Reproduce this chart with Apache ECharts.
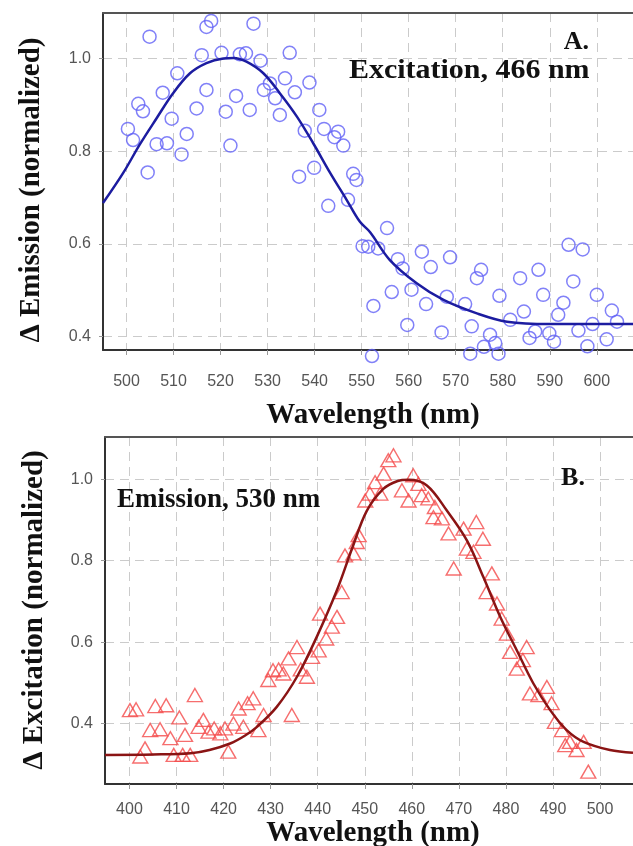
<!DOCTYPE html>
<html><head><meta charset="utf-8">
<script src="https://cdn.jsdelivr.net/npm/echarts@6/dist/echarts.min.js"></script>
<style>html,body{margin:0;padding:0;background:#fff}#c{width:633px;height:846px}</style>
</head><body><div id="c"></div>
<script>
// Panel A: emission spectrum (excitation 466 nm)
const emissionPoints = [
 [504.9,1.047],[517.0,1.068],[518.0,1.081],[527.0,1.075],
 [516.0,1.007],[520.2,1.012],[524.1,1.009],[525.4,1.011],[528.5,0.995],[534.7,1.012],
 [510.8,0.968],[517.0,0.932],[507.7,0.926],[502.5,0.902],[503.5,0.886],[500.3,0.848],[501.4,0.824],
 [509.6,0.870],[512.8,0.837],[506.4,0.815],[508.6,0.817],[511.7,0.793],[504.5,0.754],[514.9,0.892],
 [523.3,0.919],[521.1,0.885],[526.2,0.889],[522.1,0.812],[530.5,0.946],[529.2,0.932],[533.7,0.957],
 [531.6,0.914],[535.8,0.927],[538.9,0.948],[532.6,0.878],[541.0,0.889],[537.9,0.844],[542.0,0.848],
 [545.0,0.842],[544.2,0.830],[546.1,0.812],[539.9,0.764],[536.7,0.745],[542.9,0.682],[548.2,0.751],
 [548.9,0.738],[547.1,0.695],
 [550.2,0.595],[551.4,0.594],[553.5,0.590],
 [555.4,0.634],[562.8,0.583],[564.7,0.550],[568.8,0.571],[557.7,0.567],[558.7,0.547],[556.4,0.496],
 [552.5,0.466],[560.6,0.501],[563.7,0.470],[568.1,0.486],[559.7,0.425],[567.0,0.409],[572.0,0.470],
 [573.4,0.422],[574.5,0.526],[575.4,0.544],[577.3,0.404],[578.4,0.386],[579.3,0.488],[581.6,0.436],
 [583.7,0.526],[584.5,0.454],[585.7,0.397],[586.9,0.411],[587.6,0.544],[588.6,0.490],[589.9,0.407],
 [590.9,0.389],[591.8,0.447],[592.9,0.473],[594.0,0.598],[595.0,0.519],[597.0,0.588],[596.1,0.413],
 [599.1,0.427],[600.0,0.490],[598.0,0.379],[602.1,0.394],[603.2,0.456],[604.3,0.432],
 [552.2,0.358],[573.1,0.363],[576.0,0.378],[579.1,0.363]
];
const emissionFit = [
 [495.0,0.688],[499.3,0.753],[502.8,0.814],[506.4,0.871],[509.9,0.925],[513.5,0.968],[517.0,0.990],
 [520.6,1.000],[522.7,1.001],[525.5,0.993],[529.1,0.968],[532.6,0.925],[536.2,0.875],[539.7,0.817],
 [543.3,0.753],[546.8,0.695],[549.6,0.648],[551.8,0.625],[556.0,0.565],[561.7,0.515],[567.4,0.479],
 [574.5,0.450],[580.9,0.432],[590.0,0.427],[608.0,0.427]
];
// Panel B: excitation spectrum (emission 530 nm)
const excitationPoints = [
 [400.1,0.433],[401.4,0.435],[403.3,0.339],[402.3,0.319],[404.4,0.384],[406.5,0.386],[405.5,0.443],
 [407.8,0.445],[408.7,0.364],[409.4,0.323],[410.6,0.415],[411.8,0.372],[411.3,0.323],[412.9,0.323],
 [413.9,0.470],[414.7,0.392],[415.7,0.409],[416.8,0.380],[418.0,0.388],[419.3,0.376],[420.3,0.388],
 [421.0,0.331],[422.1,0.400],[423.2,0.437],[424.2,0.392],[425.1,0.450],[426.3,0.462],[427.4,0.384],
 [428.5,0.421],[429.5,0.507],[430.5,0.531],[431.7,0.533],[432.7,0.523],[433.8,0.560],[434.5,0.421],
 [435.6,0.588],[436.4,0.533],[437.7,0.515],[438.8,0.564],[440.2,0.580],[441.8,0.609],[443.0,0.638],
 [444.1,0.662],[440.5,0.670],[445.1,0.723],[445.8,0.813],[447.6,0.818],[448.3,0.846],
 [448.7,0.863],[450.1,0.948],[451.1,0.965],[452.2,0.993],[454.0,1.014],[455.0,1.047],[456.1,1.059],
 [453.3,0.965],[457.9,0.973],[459.3,0.948],[460.3,1.010],[461.4,0.989],[462.1,0.961],[463.5,0.953],
 [464.9,0.932],[464.6,0.907],[466.4,0.904],[467.8,0.867],[468.9,0.781],[471.0,0.879],[473.7,0.895],
 [475.1,0.854],[471.7,0.830],[473.1,0.822],[477.0,0.769],[475.9,0.723],[478.1,0.695],[479.1,0.658],
 [480.2,0.621],[480.9,0.576],[484.4,0.588],[483.6,0.556],[482.3,0.535],[485.1,0.474],[486.9,0.470],
 [488.7,0.490],[489.7,0.450],[490.4,0.404],[491.9,0.384],[492.6,0.347],[493.6,0.355],[495.0,0.335],
 [496.5,0.355],[497.5,0.282]
];
const excitationFit = [
 [394.8,0.323],[405,0.324],[413,0.327],[417,0.335],[421.4,0.351],[424.5,0.370],[427.1,0.392],
 [431.3,0.441],[435.6,0.515],[439.8,0.613],[444.1,0.728],[447.3,0.830],[450.4,0.922],[454.0,0.977],
 [457.0,0.996],[459.3,0.999],[463.2,0.985],[467.4,0.924],[471.7,0.850],[475.2,0.760],[478.8,0.662],
 [482.3,0.580],[485.8,0.499],[489.4,0.433],[492.9,0.384],[496.5,0.355],[502.1,0.335],[507.0,0.328]
];
const xRangeA = [495, 607.7];
const yRangeA = [0.371, 1.098];
const xRangeB = [394.8, 507.0];
const yRangeB = [0.2515, 1.104];

const gridLine = {show:true, lineStyle:{color:'#cbcbcb', width:1, type:[9,6]}};
const labelFont = {color:'#555', fontSize:16, fontFamily:'"Liberation Sans", Arial, sans-serif'};
function xAxisBottom(gi, r, margin){
  return {type:'value', gridIndex:gi, position:'bottom', min:r[0], max:r[1], splitNumber:11,
    axisLine:{show:true, onZero:false, lineStyle:{color:'#333', width:2}},
    axisTick:{show:true, inside:false, length:5, lineStyle:{color:'#999', width:1}},
    axisLabel:Object.assign({show:true, margin:margin, showMinLabel:false, showMaxLabel:false}, labelFont),
    splitLine:gridLine};
}
function xAxisTop(gi, r){
  return {type:'value', gridIndex:gi, position:'top', min:r[0], max:r[1], splitNumber:11,
    axisLine:{show:true, onZero:false, lineStyle:{color:'#555', width:2}},
    axisTick:{show:false}, axisLabel:{show:false}, splitLine:{show:false}};
}
function yAxisLeft(gi, r, margin){
  return {type:'value', gridIndex:gi, min:r[0], max:r[1], splitNumber:4,
    axisLine:{show:true, onZero:false, lineStyle:{color:'#333', width:2}},
    axisTick:{show:true, inside:false, length:4, lineStyle:{color:'#999', width:1}},
    axisLabel:Object.assign({show:true, margin:margin, showMinLabel:false, showMaxLabel:false,
      formatter:v=>v.toFixed(1)}, labelFont),
    splitLine:gridLine};
}
const serif = '"Liberation Serif", "Times New Roman", serif';
function txt(text, x, y, size, align, rot, sx){
  return {type:'text', x:x, y:y, rotation:rot||0, scaleX:sx||1, z:100,
    style:{text:text, font:'bold '+size+'px '+serif, fill:'#111', align:align||'center', verticalAlign:'middle'}};
}

const chart = echarts.init(document.getElementById('c'), null, {renderer:'canvas'});
chart.setOption({
  backgroundColor:'#fff',
  animation:false,
  grid:[
    {left:103, top:13, width:530, height:337},
    {left:105, top:437, width:528, height:347}
  ],
  xAxis:[xAxisBottom(0, xRangeA, 24), xAxisTop(0, xRangeA), xAxisBottom(1, xRangeB, 18), xAxisTop(1, xRangeB)],
  yAxis:[yAxisLeft(0, yRangeA, 12), yAxisLeft(1, yRangeB, 12)],
  series:[
    {type:'scatter', xAxisIndex:0, yAxisIndex:0, data:emissionPoints, clip:false,
      symbol:'circle', symbolSize:13,
      itemStyle:{color:'rgba(0,0,0,0)', borderColor:'#6262f6', borderWidth:1.5}},
    {type:'line', xAxisIndex:0, yAxisIndex:0, data:emissionFit, smooth:0.35, showSymbol:false,
      lineStyle:{color:'#1c1ca0', width:2.5}, z:3},
    {type:'scatter', xAxisIndex:2, yAxisIndex:1, data:excitationPoints, clip:false,
      symbol:'triangle', symbolSize:[15,13],
      itemStyle:{color:'rgba(0,0,0,0)', borderColor:'#f44a4a', borderWidth:1.4}},
    {type:'line', xAxisIndex:2, yAxisIndex:1, data:excitationFit, smooth:0.35, showSymbol:false,
      lineStyle:{color:'#8a1414', width:2.5}, z:3}
  ],
  graphic:[
    txt('Wavelength (nm)', 373, 416, 29),
    txt('Wavelength (nm)', 373, 834, 29),
    txt('\u0394 Emission (normalized)', 32, 190, 29, 'center', Math.PI/2),
    txt('\u0394 Excitation (normalized)', 35, 610, 29, 'center', Math.PI/2),
    txt('A.', 589, 42, 26, 'right'),
    txt('Excitation, 466 nm', 349, 71, 28, 'left', 0, 1.07),
    txt('Emission, 530 nm', 117, 500, 27, 'left'),
    txt('B.', 573, 478, 26)
  ]
});
</script></body></html>
